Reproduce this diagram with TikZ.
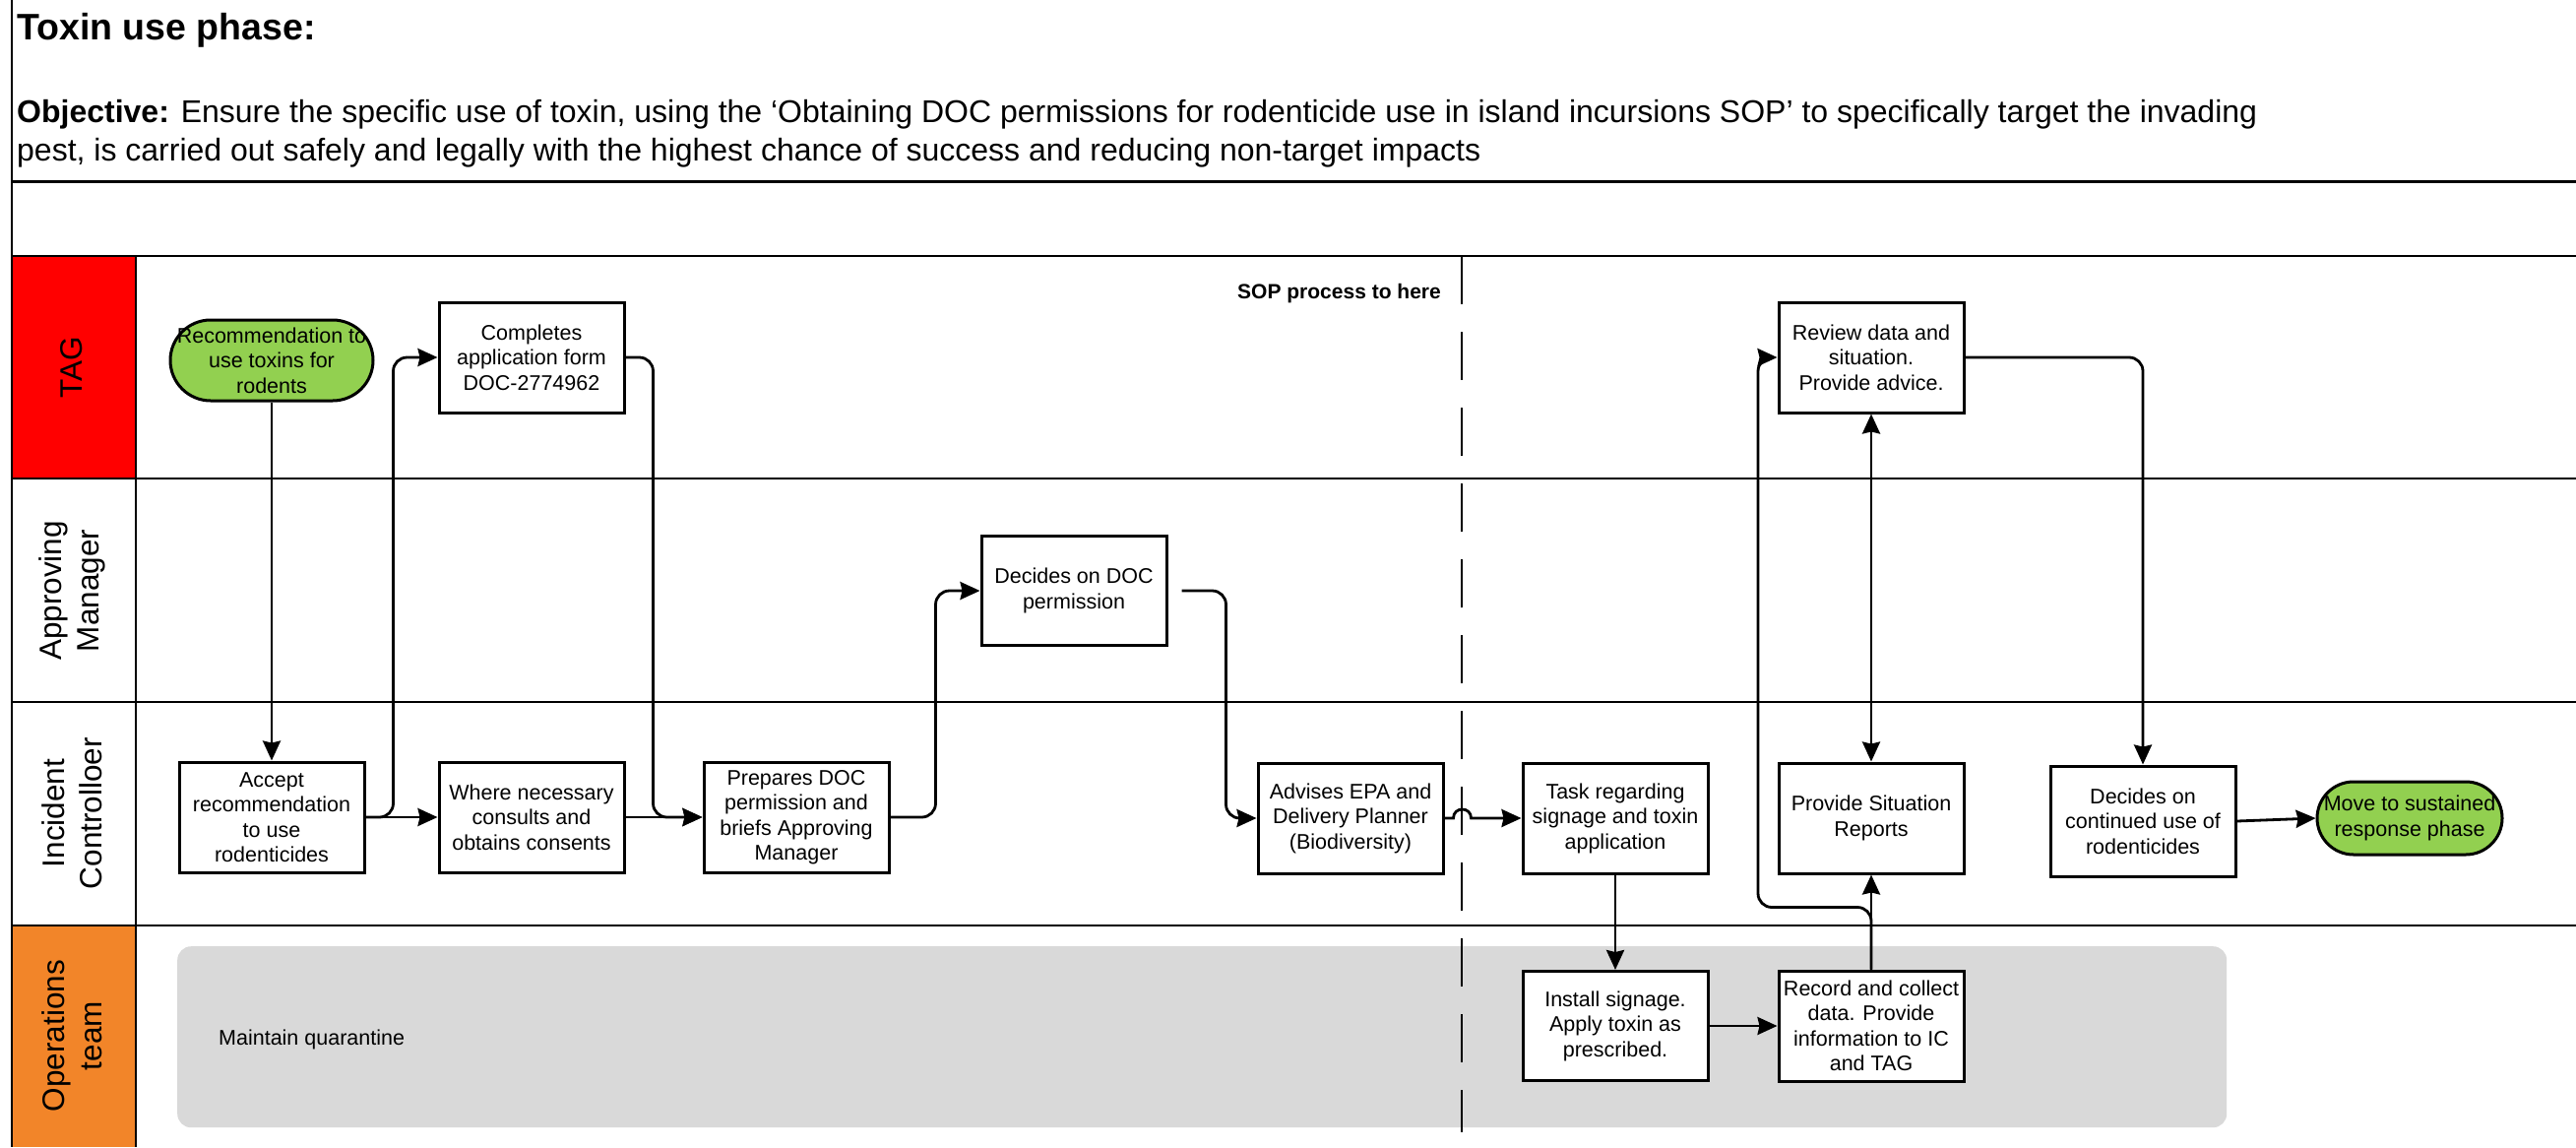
\documentclass[tikz,border=0pt]{standalone}
\usepackage{fontspec}
\setmainfont{Liberation Sans}
\usetikzlibrary{arrows.meta}
\definecolor{tagred}{RGB}{255,0,0}
\definecolor{opsorange}{RGB}{242,133,41}
\definecolor{termgreen}{RGB}{146,208,80}
\definecolor{quargrey}{RGB}{217,217,217}
\tikzset{
  ftip/.tip={Stealth[length=20pt,width=18pt,inset=2pt]},
  laneline/.style={line width=2pt},
  procbox/.style={draw, line width=3pt, fill=white, minimum width=188pt, minimum height=112pt,
    inner sep=0pt, align=center, font=\fontsize{21.5}{25.5}\selectfont},
  termbox/.style={procbox, fill=termgreen},
  conn/.style={line width=2.8pt, -ftip, rounded corners=14pt},
  lanelabel/.style={rotate=90, align=center, font=\fontsize{31.5}{38}\selectfont},
}
\begin{document}
\begin{tikzpicture}[x=1pt,y=-1pt]
\useasboundingbox (0,0) rectangle (2617,1165);
% header texts
\node[anchor=base west, inner sep=0pt, font=\fontsize{37.5}{44}\selectfont\bfseries] (title) at (17,40) {Toxin use phase:};
\node[anchor=base west, inner sep=0pt, font=\fontsize{32}{39}\selectfont] (obj1) at (17,124)
 {\textbf{Objective:} Ensure the specific use of toxin, using the ‘Obtaining DOC permissions for rodenticide use in island incursions SOP’ to specifically target the invading};
\node[anchor=base west, inner sep=0pt, font=\fontsize{32}{39}\selectfont] (obj2) at (17,163)
 {pest, is carried out safely and legally with the highest chance of success and reducing non-target impacts};
% lane header fills
\fill[tagred] (12,260) rectangle (138,486);
\fill[opsorange] (12,940) rectangle (138,1165);
% frame lines
\draw[laneline] (12,0) -- (12,1165);
\draw[line width=3pt] (12,184) -- (2617,184);
\draw[laneline] (12,260) -- (2617,260);
\draw[laneline] (12,486) -- (2617,486);
\draw[laneline] (12,713) -- (2617,713);
\draw[laneline] (12,940) -- (2617,940);
\draw[laneline] (138,260) -- (138,1165);
% lane labels
\node[lanelabel] (lTAG) at (73,373) {TAG};
\node[lanelabel] (lAM) at (73,600) {Approving\\Manager};
\node[lanelabel] (lIC) at (73,826) {Incident\\Controlloer};
\node[lanelabel] (lOPS) at (73,1052) {Operations\\team};
% quarantine background
\node[fill=quargrey, rounded corners=14pt, minimum width=2082pt, minimum height=184pt, inner sep=0pt, anchor=north west] (quar) at (180,961) {};
\node[anchor=base west, inner sep=0pt, font=\fontsize{21.5}{25.5}\selectfont] (quartxt) at (222,1061) {Maintain quarantine};
% SOP separator
\coordinate (sopTop) at (1485,260);
\coordinate (sopBot) at (1485,1150);
\draw[line width=2.5pt, dash pattern=on 49pt off 28pt] (sopTop) -- (sopBot);
\node[anchor=base east, inner sep=0pt, font=\fontsize{21}{25}\selectfont\bfseries] (sop) at (1464,303) {SOP process to here};
% nodes
\node[termbox, minimum width=206pt, minimum height=82pt, rounded corners=41pt] (start) at (276,366) {Recommendation to\\use toxins for\\rodents};
\node[procbox] (comp) at (540,363) {Completes\\application form\\DOC-2774962};
\node[procbox] (acc) at (276,830) {Accept\\recommendation\\to use\\rodenticides};
\node[procbox] (where) at (540,830) {Where necessary\\consults and\\obtains consents};
\node[procbox] (prep) at (809,830) {Prepares DOC\\permission and\\briefs Approving\\Manager};
\node[procbox, minimum height=111pt] (dec) at (1091,600) {Decides on DOC\\permission};
\node[procbox] (adv) at (1372,831) {Advises EPA and\\Delivery Planner\\(Biodiversity)};
\node[procbox] (task) at (1641,831) {Task regarding\\signage and toxin\\application};
\node[procbox, minimum height=111pt] (inst) at (1641,1042) {Install signage.\\Apply toxin as\\prescribed.};
\node[procbox] (rec) at (1901,1042) {Record and collect\\data. Provide\\information to IC\\and TAG};
\node[procbox] (sit) at (1901,831) {Provide Situation\\Reports};
\node[procbox] (rev) at (1901,363) {Review data and\\situation.\\Provide advice.};
\node[procbox] (cont) at (2177,834) {Decides on\\continued use of\\rodenticides};
\node[termbox, minimum width=188pt, minimum height=74pt, rounded corners=37pt] (move) at (2448,831) {Move to sustained\\response phase};
% connectors
\draw[conn] (start.south) -- (acc.north);
\draw[conn] (acc.east) -- ++(28,0) |- (comp.west);
\draw[conn] (acc.east) -- (where.west);
\draw[conn] (where.east) -- (prep.west);
\draw[conn] (comp.east) -- ++(28,0) |- (prep.west);
\draw[conn] (prep.east) -- ++(46,0) |- (dec.west);
\draw[conn, shorten <=14pt] (dec.east) -- ++(59,0) |- (adv.west);
\draw[conn, rounded corners=0pt] (adv.east) -- ++(9,0) .. controls +(0,-12) and +(0,-12) .. ++(18,0) -- (task.west);
\draw[conn] (task.south) -- (inst.north);
\draw[conn] (inst.east) -- (rec.west);
\draw[conn] (rec.north) -- (sit.south);
\draw[conn] (rec.north) -- ++(0,-63) -- ++(-115,0) |- (rev.west);
\draw[conn, ftip-ftip] (rev.south) -- (sit.north);
\draw[conn] (rev.east) -| (cont.north);
\draw[conn] (cont.east) -- (move.west);
\end{tikzpicture}
\end{document}
